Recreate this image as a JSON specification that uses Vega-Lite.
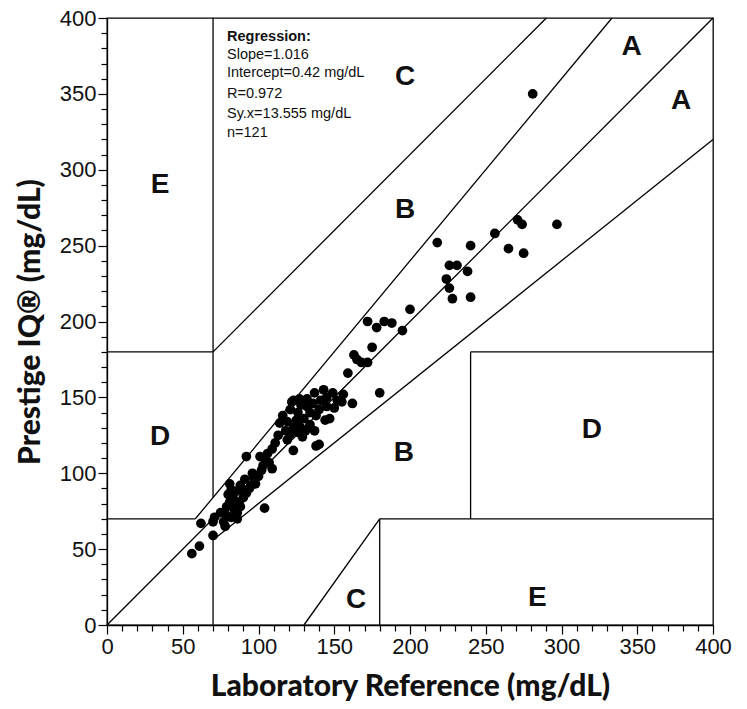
{
  "$schema": "https://vega.github.io/schema/vega-lite/v6.json",
  "width": 606,
  "height": 607,
  "autosize": {"type": "none"},
  "padding": {"left": 107, "top": 18, "right": 34, "bottom": 84},
  "background": "white",
  "config": {
    "view": {"stroke": "black", "strokeWidth": 1.3},
    "axis": {
      "domainColor": "black", "domainWidth": 1.3, "tickColor": "black", "tickWidth": 1.2,
      "labelFont": "Liberation Sans", "labelFontSize": 22, "labelColor": "#111",
      "titleFont": "Lato", "titleFontWeight": 900, "titleFontSize": 30, "titleColor": "#111",
      "grid": false, "labelOverlap": false, "labelFlush": false
    }
  },
  "datasets": {
    "segments": [
      {"x": 0, "y": 0, "x2": 400, "y2": 400},
      {"x": 0, "y": 70, "x2": 58.33, "y2": 70},
      {"x": 58.33, "y": 70, "x2": 333.33, "y2": 400},
      {"x": 70, "y": 84, "x2": 70, "y2": 400},
      {"x": 0, "y": 180, "x2": 70, "y2": 180},
      {"x": 70, "y": 180, "x2": 290, "y2": 400},
      {"x": 70, "y": 0, "x2": 70, "y2": 56},
      {"x": 70, "y": 56, "x2": 400, "y2": 320},
      {"x": 180, "y": 0, "x2": 180, "y2": 70},
      {"x": 180, "y": 70, "x2": 400, "y2": 70},
      {"x": 240, "y": 70, "x2": 240, "y2": 180},
      {"x": 240, "y": 180, "x2": 400, "y2": 180},
      {"x": 130, "y": 0, "x2": 180, "y2": 70}
    ],
    "points": [
      {"x": 281, "y": 350}, {"x": 271, "y": 267}, {"x": 274, "y": 264}, {"x": 297, "y": 264},
      {"x": 256, "y": 258}, {"x": 218, "y": 252}, {"x": 240, "y": 250}, {"x": 265, "y": 248},
      {"x": 275, "y": 245}, {"x": 226, "y": 237}, {"x": 231, "y": 237}, {"x": 238, "y": 233},
      {"x": 224, "y": 228}, {"x": 226, "y": 222}, {"x": 228, "y": 215}, {"x": 240, "y": 216},
      {"x": 200, "y": 208}, {"x": 195, "y": 194}, {"x": 172, "y": 200}, {"x": 178, "y": 196},
      {"x": 175, "y": 183}, {"x": 163, "y": 178}, {"x": 165, "y": 175}, {"x": 168, "y": 173},
      {"x": 172, "y": 173}, {"x": 159, "y": 166}, {"x": 162, "y": 146}, {"x": 123, "y": 148},
      {"x": 122, "y": 147}, {"x": 127, "y": 149}, {"x": 132, "y": 149}, {"x": 137, "y": 153},
      {"x": 143, "y": 155}, {"x": 149, "y": 153}, {"x": 156, "y": 152}, {"x": 132, "y": 144},
      {"x": 136, "y": 146}, {"x": 140, "y": 142}, {"x": 145, "y": 144}, {"x": 116, "y": 138},
      {"x": 121, "y": 142}, {"x": 114, "y": 133}, {"x": 119, "y": 134}, {"x": 125, "y": 135},
      {"x": 130, "y": 136}, {"x": 144, "y": 135}, {"x": 147, "y": 136}, {"x": 123, "y": 130},
      {"x": 127, "y": 131}, {"x": 131, "y": 128}, {"x": 129, "y": 124}, {"x": 113, "y": 125},
      {"x": 119, "y": 122}, {"x": 123, "y": 115}, {"x": 138, "y": 118}, {"x": 140, "y": 119},
      {"x": 109, "y": 116}, {"x": 92, "y": 111}, {"x": 101, "y": 111}, {"x": 104, "y": 110},
      {"x": 107, "y": 107}, {"x": 109, "y": 103}, {"x": 102, "y": 102}, {"x": 100, "y": 98},
      {"x": 98, "y": 93}, {"x": 91, "y": 96}, {"x": 94, "y": 90}, {"x": 92, "y": 87},
      {"x": 89, "y": 89}, {"x": 81, "y": 93}, {"x": 82, "y": 89}, {"x": 80, "y": 86},
      {"x": 83, "y": 85}, {"x": 87, "y": 81}, {"x": 81, "y": 81}, {"x": 79, "y": 78},
      {"x": 83, "y": 78}, {"x": 88, "y": 78}, {"x": 86, "y": 74}, {"x": 82, "y": 71},
      {"x": 75, "y": 74}, {"x": 71, "y": 71}, {"x": 70, "y": 68}, {"x": 78, "y": 65},
      {"x": 62, "y": 67}, {"x": 70, "y": 59}, {"x": 61, "y": 52}, {"x": 56, "y": 47},
      {"x": 104, "y": 77}, {"x": 180, "y": 153}, {"x": 183, "y": 200}, {"x": 188, "y": 199},
      {"x": 126, "y": 140}, {"x": 128, "y": 145}, {"x": 134, "y": 140}, {"x": 134, "y": 132},
      {"x": 138, "y": 138}, {"x": 141, "y": 148}, {"x": 145, "y": 150}, {"x": 152, "y": 148},
      {"x": 150, "y": 143}, {"x": 155, "y": 147}, {"x": 118, "y": 128}, {"x": 121, "y": 126},
      {"x": 126, "y": 127}, {"x": 133, "y": 130}, {"x": 137, "y": 128}, {"x": 84, "y": 82},
      {"x": 85, "y": 88}, {"x": 90, "y": 84}, {"x": 95, "y": 92}, {"x": 97, "y": 97},
      {"x": 103, "y": 105}, {"x": 106, "y": 113}, {"x": 111, "y": 120}, {"x": 96, "y": 100},
      {"x": 88, "y": 92}, {"x": 84, "y": 76}, {"x": 86, "y": 70}, {"x": 79, "y": 72},
      {"x": 77, "y": 68}
    ],
    "zones": [
      {"x": 346.3, "y": 381, "label": "A"},
      {"x": 379, "y": 345, "label": "A"},
      {"x": 196.7, "y": 361.3, "label": "C"},
      {"x": 196.7, "y": 273.5, "label": "B"},
      {"x": 35, "y": 290, "label": "E"},
      {"x": 35, "y": 124, "label": "D"},
      {"x": 196, "y": 113.3, "label": "B"},
      {"x": 320, "y": 128.5, "label": "D"},
      {"x": 284, "y": 17.8, "label": "E"},
      {"x": 164.4, "y": 16.5, "label": "C"}
    ],
    "notesBold": [
      {"x": 79.2, "y": 387.7, "label": "Regression:"}
    ],
    "notes": [
      {"x": 79.2, "y": 375.6, "label": "Slope=1.016"},
      {"x": 79.2, "y": 363.6, "label": "Intercept=0.42 mg/dL"},
      {"x": 79.2, "y": 349.9, "label": "R=0.972"},
      {"x": 79.2, "y": 336.7, "label": "Sy.x=13.555 mg/dL"},
      {"x": 79.2, "y": 324.2, "label": "n=121"}
    ]
  },
  "encoding": {
    "x": {
      "field": "x", "type": "quantitative",
      "scale": {"domain": [0, 400], "nice": false, "zero": false},
      "title": "Laboratory Reference (mg/dL)",
      "axis": {
        "values": [0,10,20,30,40,50,60,70,80,90,100,110,120,130,140,150,160,170,180,190,200,210,220,230,240,250,260,270,280,290,300,310,320,330,340,350,360,370,380,390,400],
        "labelExpr": "datum.value % 50 === 0 ? datum.label : ''",
        "tickSize": {"condition": {"test": "datum.value % 50 === 0", "value": 9}, "value": 6},
        "labelPadding": 2,
        "titlePadding": 14
      }
    },
    "y": {
      "field": "y", "type": "quantitative",
      "scale": {"domain": [0, 400], "nice": false, "zero": false},
      "title": "Prestige IQ® (mg/dL)",
      "axis": {
        "values": [0,10,20,30,40,50,60,70,80,90,100,110,120,130,140,150,160,170,180,190,200,210,220,230,240,250,260,270,280,290,300,310,320,330,340,350,360,370,380,390,400],
        "labelExpr": "datum.value % 50 === 0 ? datum.label : ''",
        "tickSize": {"condition": {"test": "datum.value % 50 === 0", "value": 9}, "value": 6},
        "labelPadding": 2,
        "titlePadding": 14
      }
    }
  },
  "layer": [
    {
      "data": {"name": "segments"},
      "mark": {"type": "rule", "color": "black", "strokeWidth": 1.3},
      "encoding": {"x2": {"field": "x2"}, "y2": {"field": "y2"}}
    },
    {
      "data": {"name": "points"},
      "mark": {"type": "point", "filled": true, "shape": "circle", "size": 95, "color": "black", "opacity": 1}
    },
    {
      "data": {"name": "zones"},
      "mark": {"type": "text", "font": "Liberation Sans", "fontWeight": "bold", "fontSize": 28, "color": "#111", "align": "center", "baseline": "middle"},
      "encoding": {"text": {"field": "label"}}
    },
    {
      "data": {"name": "notesBold"},
      "mark": {"type": "text", "font": "Liberation Sans", "fontWeight": "bold", "fontSize": 14.5, "color": "#111", "align": "left", "baseline": "middle"},
      "encoding": {"text": {"field": "label"}}
    },
    {
      "data": {"name": "notes"},
      "mark": {"type": "text", "font": "Liberation Sans", "fontSize": 14.5, "color": "#111", "align": "left", "baseline": "middle"},
      "encoding": {"text": {"field": "label"}}
    }
  ]
}
